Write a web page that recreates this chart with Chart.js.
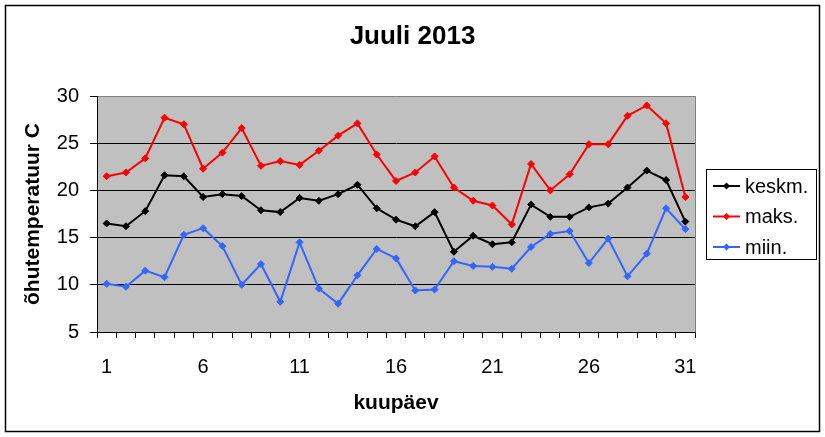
<!DOCTYPE html>
<html>
<head>
<meta charset="utf-8">
<script src="https://cdn.jsdelivr.net/npm/chart.js@4"></script>
<style>
html,body{margin:0;padding:0;background:#fff;}
#wrap{width:825px;height:437px;position:relative;}
</style>
</head>
<body>
<div id="wrap"><canvas id="c" width="825" height="437"></canvas></div>
<script>
const days = ['1','2','3','4','5','6','7','8','9','10','11','12','13','14','15','16','17','18','19','20','21','22','23','24','25','26','27','28','29','30','31'];
const keskm = [16.5,16.2,17.8,21.6,21.5,19.3,19.6,19.4,17.9,17.7,19.2,18.9,19.6,20.6,18.1,16.9,16.2,17.7,13.5,15.2,14.3,14.5,18.5,17.2,17.2,18.2,18.6,20.3,22.1,21.1,16.7];
const maks = [21.5,21.9,23.4,27.7,27.0,22.3,24.0,26.6,22.6,23.1,22.7,24.2,25.8,27.1,23.8,21.0,21.9,23.6,20.3,18.9,18.4,16.4,22.8,20.0,21.7,24.9,24.9,27.9,29.0,27.1,19.3];
const miin = [10.1,9.8,11.5,10.8,15.3,16.0,14.1,10.0,12.2,8.2,14.5,9.6,8.0,11.0,13.8,12.8,9.4,9.5,12.5,12.0,11.9,11.7,14.0,15.4,15.7,12.3,14.9,10.9,13.3,18.1,15.9];
const seriesNames = ['keskm.','maks.','miin.'];
const seriesColors = ['#000000','#ff0000','#3366ff'];
const titleText = 'Juuli 2013';
const xTitle = 'kuupäev';
const yTitle = 'õhutemperatuur C';

const FONT = "'Liberation Sans', Arial, sans-serif";

const bgPlugin = {
  id: 'bg',
  beforeDraw(chart) {
    const {ctx, chartArea: a} = chart;
    ctx.save();
    ctx.fillStyle = '#ffffff';
    ctx.fillRect(0, 0, chart.width, chart.height);
    ctx.fillStyle = '#c0c0c0';
    ctx.fillRect(a.left, a.top, a.right - a.left, a.bottom - a.top);
    ctx.restore();
  },
  afterDraw(chart) {
    const {ctx, chartArea: a} = chart;
    ctx.save();
    ctx.strokeStyle = '#808080';
    ctx.lineWidth = 1;
    ctx.beginPath();
    ctx.moveTo(a.right + 0.5, a.top);
    ctx.lineTo(a.right + 0.5, a.bottom);
    ctx.stroke();
    // outer frame
    ctx.strokeStyle = '#000';
    ctx.lineWidth = 1.5;
    ctx.strokeRect(5.5, 5.5, 814, 426);
    // legend box
    const lx = 706, ly = 169, lw = 110, lh = 90;
    ctx.fillStyle = '#fff';
    ctx.fillRect(lx, ly, lw, lh);
    ctx.strokeStyle = '#000';
    ctx.lineWidth = 1;
    ctx.strokeRect(lx + 0.5, ly + 0.5, lw, lh);
    chart.data.datasets.forEach((ds, i) => {
      const y = 186 + i * 30.5;
      ctx.strokeStyle = ds.borderColor;
      ctx.lineWidth = 2;
      ctx.beginPath();
      ctx.moveTo(713, y);
      ctx.lineTo(740, y);
      ctx.stroke();
      ctx.fillStyle = ds.borderColor;
      ctx.beginPath();
      ctx.moveTo(726.5, y - 3.5);
      ctx.lineTo(730, y);
      ctx.lineTo(726.5, y + 3.5);
      ctx.lineTo(723, y);
      ctx.closePath();
      ctx.fill();
      ctx.fillStyle = '#000';
      ctx.font = '20px ' + FONT;
      ctx.textBaseline = 'middle';
      ctx.textAlign = 'left';
      ctx.fillText(ds.label, 745, y + 1);
    });
    ctx.restore();
  }
};

const seriesData = [keskm, maks, miin];
new Chart(document.getElementById('c'), {
  type: 'line',
  data: {
    labels: days,
    datasets: seriesNames.map((n, i) => ({
      label: n,
      data: seriesData[i],
      borderColor: seriesColors[i],
      backgroundColor: seriesColors[i],
      borderWidth: 2,
      pointStyle: 'rectRot',
      pointRadius: 3.5,
      pointBorderWidth: 1,
      tension: 0,
      fill: false
    }))
  },
  options: {
    responsive: false,
    animation: false,
    devicePixelRatio: 1,
    layout: {padding: {left: 0, right: 0, top: 21, bottom: 0}},
    plugins: {
      legend: {display: false},
      tooltip: {enabled: false},
      title: {
        display: true,
        text: titleText,
        color: '#000',
        font: {family: FONT, size: 26, weight: 'bold'},
        padding: {top: 0, bottom: 43.8}
      }
    },
    scales: {
      x: {
        type: 'category',
        offset: true,
        grid: {offset: true, drawOnChartArea: false, drawTicks: true, tickLength: 6, tickColor: '#000', color: '#000'},
        border: {display: true, color: '#000', width: 1},
        ticks: {
          autoSkip: false, maxRotation: 0, color: '#000', padding: 17,
          font: {family: FONT, size: 20},
          callback: function(v, i) { return i % 5 === 0 ? this.getLabelForValue(v) : ''; }
        },
        title: {display: true, text: xTitle, color: '#000', font: {family: FONT, size: 21, weight: 'bold'}, padding: {top: 0, bottom: 21}},
        afterFit(s) { s.height = 105; }
      },
      y: {
        min: 5, max: 30,
        grid: {
          color: (c) => (c.tick && c.tick.value === 30) ? '#808080' : '#000',
          tickColor: '#000', tickLength: 7, lineWidth: 1
        },
        border: {display: true, color: '#000', width: 1},
        ticks: {stepSize: 5, color: '#000', padding: 11, font: {family: FONT, size: 20}},
        title: {display: true, text: yTitle, color: '#000', font: {family: FONT, size: 21, weight: 'bold'}, padding: {top: 21, bottom: 0}},
        afterFit(s) { s.width = 97; }
      },
      legendSpace: {
        type: 'linear',
        position: 'right',
        display: true,
        grid: {display: false, drawOnChartArea: false},
        border: {display: false},
        ticks: {display: false},
        afterFit(s) { s.width = 130; }
      }
    }
  },
  plugins: [bgPlugin]
});
</script>
</body>
</html>
